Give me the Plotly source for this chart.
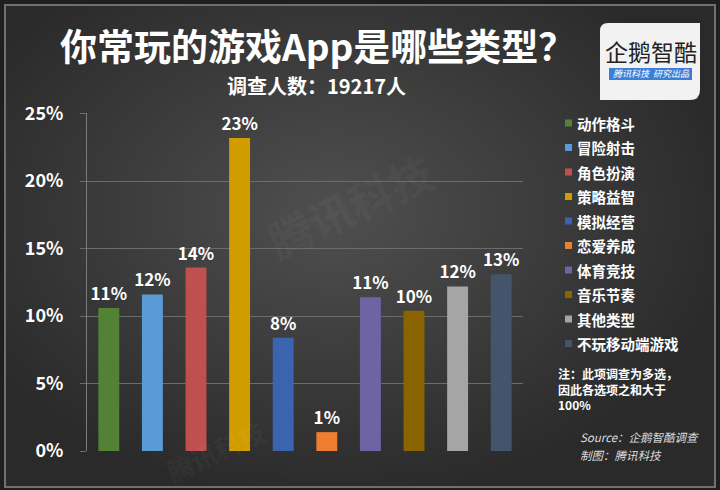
import base64
import struct
import zlib

import numpy as np
import plotly.graph_objects as go

categories = ["动作格斗", "冒险射击", "角色扮演", "策略益智", "模拟经营",
              "恋爱养成", "体育竞技", "音乐节奏", "其他类型", "不玩移动端游戏"]
values = [10.6, 11.6, 13.6, 23.2, 8.4, 1.4, 11.4, 10.4, 12.2, 13.1]
colors = ["#538135", "#5b9bd5", "#c0504d", "#d09c00", "#3a64b0",
          "#ed7d31", "#6e64a4", "#8a6400", "#a5a5a5", "#44546a"]
yticks = [0, 5, 10, 15, 20, 25]

title = "你常玩的游戏App是哪些类型？"
subtitle = "调查人数：19217人"
notes = ["注：此项调查为多选，", "因此各选项之和大于", "100%"]
source = ["Source：企鹅智酷调查", "制图：腾讯科技"]

W, H = 720, 490
L, R, T, B = 87, 197, 113, 39
PW, PH = W - L - R, H - T - B
FONT = "Noto Sans CJK SC"


def px(x):
    return (x - L) / PW


def py(y):
    return (H - B - y) / PH


def png_uri(img):
    h, w, _ = img.shape
    raw = b"".join(b"\x00" + img[r].tobytes() for r in range(h))

    def chunk(t, d):
        c = struct.pack(">I", len(d)) + t + d
        return c + struct.pack(">I", zlib.crc32(t + d) & 0xffffffff)

    png = (b"\x89PNG\r\n\x1a\n"
           + chunk(b"IHDR", struct.pack(">IIBBBBB", w, h, 8, 2, 0, 0, 0))
           + chunk(b"IDAT", zlib.compress(raw))
           + chunk(b"IEND", b""))
    return "data:image/png;base64," + base64.b64encode(png).decode()


# radial background, lighter in the middle
gx, gy = np.meshgrid(np.arange(180) * 4, np.arange(123) * 4)
d = np.sqrt(((gx - 330) / 420.0) ** 2 + ((gy - 210) / 300.0) ** 2)
v = (80 - 38 * np.clip(d, 0, 1)).astype(np.uint8)
bg = np.stack([v, v, v], axis=-1)

fig = go.Figure(go.Bar(
    x=categories, y=values,
    marker=dict(color=colors, line=dict(width=0)),
    texttemplate="%{y:.0f}%", textposition="outside", constraintext="none",
    textfont=dict(family=FONT, size=17, color="white", weight="bold"),
    cliponaxis=False, hoverinfo="skip",
))

fig.update_layout(
    width=W, height=H,
    margin=dict(l=L, r=R, t=T, b=B),
    paper_bgcolor="#1f1f1f", plot_bgcolor="rgba(0,0,0,0)",
    bargap=0.52, showlegend=False,
    font=dict(family=FONT, color="white"),
)
fig.update_xaxes(showticklabels=False, showgrid=False, zeroline=False, fixedrange=True)
fig.update_yaxes(
    range=[0, 25.05], tickvals=yticks, ticktext=[f"{t}%" for t in yticks],
    showgrid=True, gridcolor="#6c6c6c", gridwidth=1, zeroline=False,
    showline=True, linecolor="#7c7c7c", linewidth=1, automargin=False,
    ticks="outside", ticklen=6, tickcolor="#6c6c6c", ticklabelstandoff=13,
    tickfont=dict(family=FONT, size=18, color="white", weight="bold"),
)

fig.add_layout_image(dict(
    source=png_uri(bg), xref="paper", yref="paper",
    x=px(5), y=py(5), sizex=px(715) - px(5), sizey=py(5) - py(487),
    sizing="stretch", layer="below",
))

shapes = [
    dict(type="rect", xref="paper", yref="paper",
         x0=px(5), x1=px(715), y0=py(5), y1=py(487),
         line=dict(color="#707070", width=2)),
    # logo box
    dict(type="path", xref="paper", yref="paper",
         path=(f"M {px(608)},{py(23)} L {px(700)},{py(23)} L {px(700)},{py(90)} "
               f"Q {px(700)},{py(100)} {px(690)},{py(100)} L {px(600)},{py(100)} "
               f"L {px(600)},{py(31)} Q {px(600)},{py(23)} {px(608)},{py(23)} Z"),
         fillcolor="#f2f2f2", line=dict(width=0)),
    dict(type="rect", xref="paper", yref="paper",
         x0=px(609), x1=px(692), y0=py(68), y1=py(80),
         fillcolor="#3b7fd9", line=dict(width=0)),
]

ann = [
    dict(text=title, x=px(317), y=py(45), font=dict(size=37, weight="bold")),
    dict(text=subtitle, x=px(316), y=py(85), font=dict(size=20, weight="bold")),
    dict(text="企鹅智酷", x=px(651), y=py(51), font=dict(size=23, color="#222222")),
    dict(text="<i>腾讯科技  研究出品</i>", x=px(651), y=py(74), font=dict(size=9, color="white")),
    dict(text="腾讯科技", x=px(350), y=py(205), textangle=-25,
         font=dict(size=44, weight="bold", color="rgba(255,255,255,0.05)")),
    dict(text="腾讯科技", x=px(215), y=py(450), textangle=-25,
         font=dict(size=26, weight="bold", color="rgba(255,255,255,0.05)")),
]

for i, (cat, col) in enumerate(zip(categories, colors)):
    yc = 123 + 24.5 * i
    shapes.append(dict(type="rect", xref="paper", yref="paper",
                       x0=px(565), x1=px(572), y0=py(yc - 3.5), y1=py(yc + 3.5),
                       fillcolor=col, line=dict(width=0)))
    ann.append(dict(text=cat, x=px(575), y=py(yc), xanchor="left",
                    font=dict(size=14.5, weight="bold")))

ann.append(dict(text="<br>".join(notes), x=px(556), y=py(389), xanchor="left", align="left",
                font=dict(size=12, weight="bold")))

for i, line in enumerate(source):
    ann.append(dict(text=f"<i>{line}</i>", x=px(578), y=py(437 + 18 * i), xanchor="left",
                    font=dict(size=11.5, color="#dddddd")))

for a in ann:
    a.setdefault("xanchor", "center")
    a.update(xref="paper", yref="paper", yanchor="middle", showarrow=False)
    fig.add_annotation(**a)

fig.update_layout(shapes=shapes)

fig.write_html("out.html", config={"displayModeBar": False},
               post_script="document.body.style.margin='0';")
